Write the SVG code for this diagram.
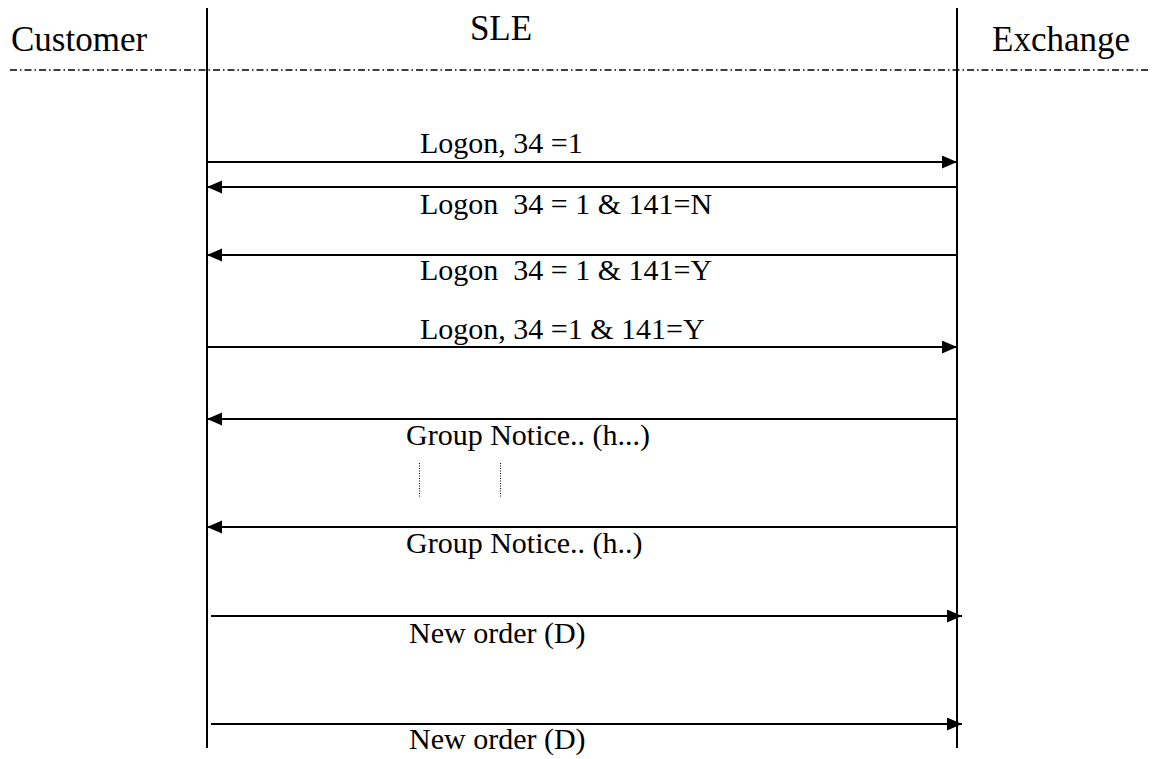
<svg xmlns="http://www.w3.org/2000/svg" width="1159" height="759" viewBox="0 0 1159 759">
<style>
text{font-family:'Liberation Serif','Times New Roman',Times,serif;fill:#000}
.h{font-size:35px}
.l{font-size:30px}
.life{stroke:#000;stroke-width:2;fill:none}
.msg{stroke:#000;stroke-width:2;fill:none}
.sep{stroke:#000;stroke-width:1.3;stroke-dasharray:7 3 1.5 3;fill:none}
.dot{stroke:#000;stroke-width:1;stroke-dasharray:1 1.5;fill:none}
</style>
<defs>
<marker id="ah" markerUnits="userSpaceOnUse" markerWidth="16" markerHeight="14" refX="15" refY="6.5" orient="auto">
<path d="M0,0 L15,6.5 L0,13 Z" fill="#000"/>
</marker>
</defs>
<rect width="1159" height="759" fill="#fff"/>
<g id="customer"><text class="h" x="11" y="51">Customer</text></g>
<g id="sle"><text class="h" x="501" y="40" text-anchor="middle">SLE</text><line class="life" x1="207" y1="8" x2="207" y2="748"/></g>
<g id="exchange"><text class="h" x="992" y="51">Exchange</text><line class="life" x1="957" y1="8" x2="957" y2="748"/></g>
<g id="separator"><line class="sep" x1="10" y1="70" x2="1150" y2="70"/></g>
<g id="connectors">
<line class="msg" x1="207" y1="162" x2="957" y2="162" marker-end="url(#ah)"/>
<line class="msg" x1="957" y1="187" x2="207" y2="187" marker-end="url(#ah)"/>
<line class="msg" x1="957" y1="255" x2="207" y2="255" marker-end="url(#ah)"/>
<line class="msg" x1="207" y1="347" x2="957" y2="347" marker-end="url(#ah)"/>
<line class="msg" x1="957" y1="419" x2="207" y2="419" marker-end="url(#ah)"/>
<line class="msg" x1="957" y1="527" x2="207" y2="527" marker-end="url(#ah)"/>
<line class="msg" x1="211" y1="616" x2="962" y2="616" marker-end="url(#ah)"/>
<line class="msg" x1="211" y1="724" x2="962" y2="724" marker-end="url(#ah)"/>
<line class="dot" x1="419.5" y1="463" x2="419.5" y2="498"/>
<line class="dot" x1="500.5" y1="463" x2="500.5" y2="498"/>
</g>
<g id="labels">
<text class="l" x="420" y="153">Logon, 34 =1</text>
<text class="l" x="420" y="214" xml:space="preserve">Logon  34 = 1 &amp; 141=N</text>
<text class="l" x="420" y="280" xml:space="preserve">Logon  34 = 1 &amp; 141=Y</text>
<text class="l" x="420" y="339">Logon, 34 =1 &amp; 141=Y</text>
<text class="l" x="406" y="445">Group Notice.. (h...)</text>
<text class="l" x="406" y="553">Group Notice.. (h..)</text>
<text class="l" x="409" y="643">New order (D)</text>
<text class="l" x="409" y="749">New order (D)</text>
</g>
</svg>
